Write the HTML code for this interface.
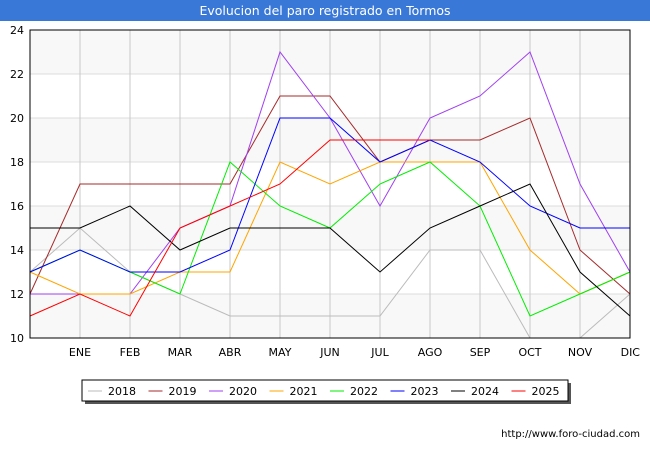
<!DOCTYPE html>
<html><head><meta charset="utf-8"><style>
body{margin:0;width:650px;height:450px;background:#fff;font-family:"Liberation Sans",sans-serif;overflow:hidden}
svg text{font-family:"DejaVu Sans","Liberation Sans",sans-serif}
</style></head><body>
<svg id="c" width="650" height="450">
<rect x="0" y="0" width="650" height="21" fill="#3a78d8"/>
<text x="325" y="15" fill="#fff" font-size="12.5" text-anchor="middle">Evolucion del paro registrado en Tormos</text>
<g id="plot"></g>
<text x="640" y="437" font-size="10" text-anchor="end" fill="#000">http://www.foro-ciudad.com</text>
</svg>
<script>
const months=["","ENE","FEB","MAR","ABR","MAY","JUN","JUL","AGO","SEP","OCT","NOV","DIC"];
const yTicks=[10,12,14,16,18,20,22,24];
const years=["2018","2019","2020","2021","2022","2023","2024","2025"];
const colors=["#bbbbbb","#a52a2a","#a040f0","#ffa500","#00ee00","#0000ff","#000000","#ff0000"];
const s2018=[13,15,13,12,11,11,11,11,14,14,10,10,12];
const s2019=[12,17,17,17,17,21,21,18,19,19,20,14,12];
const s2020=[12,12,12,15,16,23,20,16,20,21,23,17,13];
const s2021=[13,12,12,13,13,18,17,18,18,18,14,12,13];
const s2022=[13,14,13,12,18,16,15,17,18,16,11,12,13];
const s2023=[13,14,13,13,14,20,20,18,19,18,16,15,15];
const s2024=[15,15,16,14,15,15,15,13,15,16,17,13,11];
const s2025=[11,12,11,15,16,17,19,19,19];
const series=[s2018,s2019,s2020,s2021,s2022,s2023,s2024,s2025];
const X0=30,X1=630,Y0=338,Y1=30,ymin=10,ymax=24;
const xs=i=>X0+i*(X1-X0)/(months.length-1);
const ys=v=>Y0-(v-ymin)*(Y0-Y1)/(ymax-ymin);
const NS="http://www.w3.org/2000/svg",g=document.getElementById("plot");
function mk(t,a){const e=document.createElementNS(NS,t);for(const k in a)e.setAttribute(k,a[k]);g.appendChild(e);return e;}
for(let i=0;i<yTicks.length-1;i++){
 const b=mk("rect",{x:X0,y:ys(yTicks[i+1]),width:X1-X0,height:ys(yTicks[i])-ys(yTicks[i+1]),fill:(i%2==0)?"#f8f8f8":"#fff"});
 
 
}
yTicks.forEach(v=>{
 const l=mk("line",{x1:X0,x2:X1,y1:ys(v),y2:ys(v),stroke:"#dddddd"});
 
 
 const t=mk("text",{x:X0-6,y:ys(v)+4,"font-size":11,"text-anchor":"end",fill:"#000"});t.textContent=v;
 
 
});
months.forEach((m,i)=>{
 if(i==0)return;
 const l=mk("line",{x1:xs(i),x2:xs(i),y1:Y1,y2:Y0,stroke:"#c8c8c8"});
 
 
 const t=mk("text",{x:xs(i),y:Y0+18,"font-size":11,"text-anchor":i==12?"end":"middle",fill:"#000"});t.textContent=m;
 if(i==12)t.setAttribute("x",xs(i)+10);
 
 
});
series.forEach((s,k)=>{
 const p=mk("polyline",{points:s.map((v,i)=>xs(i)+","+ys(v)).join(" "),fill:"none",stroke:colors[k],"stroke-width":1});
 
 
});
const fr=mk("rect",{x:X0,y:Y1,width:X1-X0,height:Y0-Y1,fill:"none",stroke:"#000"});


const sh=mk("rect",{x:85,y:383,width:486,height:21,fill:"#555"});


const lb=mk("rect",{x:82,y:380,width:486,height:21,fill:"#fff",stroke:"#000"});


years.forEach((y,k)=>{
 const x=88+k*60.5;
 const l=mk("line",{x1:x,x2:x+14,y1:391,y2:391,stroke:colors[k]});
 
 
 const t=mk("text",{x:x+20,y:395,"font-size":11,fill:"#000"});t.textContent=y;
 
 
});
</script>
</body></html>
